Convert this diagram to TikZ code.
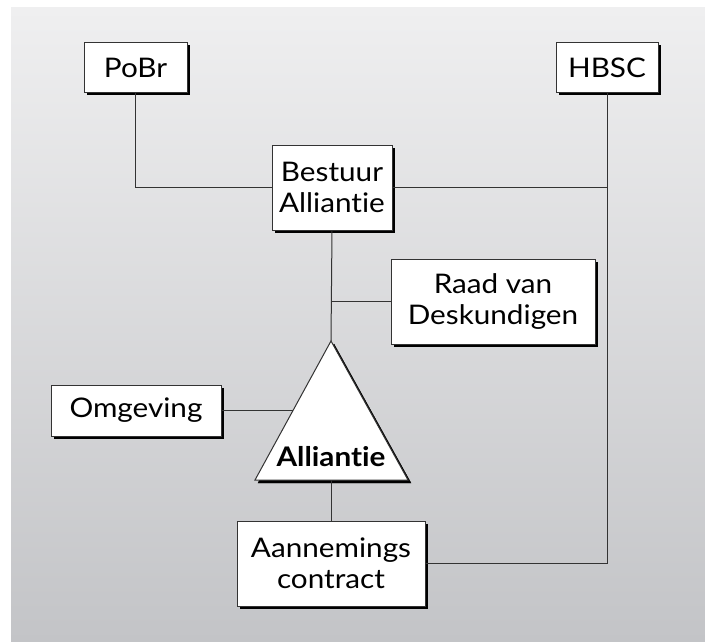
\documentclass[tikz,border=0pt]{standalone}
\usepackage{fontspec}
\setmainfont[Ligatures=NoCommon, FakeStretch=1.1]{Lato}
\usepackage{tikz}
\usetikzlibrary{shadows,positioning,calc}

\definecolor{bgtop}{HTML}{EFEFF0}
\definecolor{bgbot}{HTML}{C3C4C7}
\definecolor{linegray}{HTML}{333333}

\tikzset{
  orgbox/.style = {draw=linegray, fill=white, line width=1pt, align=center,
    font=\fontsize{27}{31}\selectfont, inner sep=0pt,
    drop shadow={shadow xshift=2.5pt, shadow yshift=-2.5pt, fill=black, opacity=1}},
  link/.style = {draw=linegray, line width=1pt}
}

\begin{document}
\begin{tikzpicture}[x=1pt, y=-1pt]
    \useasboundingbox (0,0) rectangle (705,642);
    \shade[top color=bgtop, bottom color=bgbot] (11,8) rectangle (705,642);

    % boxes
    \node[orgbox, minimum width=103pt, minimum height=50pt] (pobr) at (135.5,68) {PoBr};
    \node[orgbox, minimum width=102pt, minimum height=50pt] (hbsc) at (607,68) {HBSC};
    \node[orgbox, minimum width=120pt, minimum height=85pt] (bestuur) at (332,187.5) {Bestuur\\Alliantie};
    \node[orgbox, minimum width=204pt, minimum height=85pt] (raad) at (493,301.5) {Raad van\\Deskundigen};
    \node[orgbox, minimum width=170pt, minimum height=51pt] (omgeving) at (136,410.5) {Omgeving};
    \node[orgbox, minimum width=188pt, minimum height=85pt] (contract) at (331,563.5) {Aannemings\\contract};

    % triangle
    \coordinate (top) at (331,341);
    \coordinate (bottom) at (331,480);
    \coordinate (side) at (293,410.5);
    \draw[fill=black] ($(top)+(3,3)$) -- (258,483) -- (411,483) -- cycle;
    \draw[draw=linegray, fill=white, line width=1pt] (top) -- (255,480) -- (408,480) -- cycle;
    \node[font=\fontsize{27}{31}\selectfont\bfseries] (alliantie) at (331,457) {Alliantie};

    % connectors
    \draw[link] (pobr.south) |- (bestuur.west);
    \draw[link] (bestuur.east) -- (bestuur.east -| hbsc.south);
    \draw[link] (hbsc.south) |- (contract.east);
    \draw[link] (bestuur.south) -- (top);
    \draw[link] (bestuur.south |- raad.west) -- (raad.west);
    \draw[link] (omgeving.east) -- (side);
    \draw[link] (bottom) -- (contract.north);
  \end{tikzpicture}
\end{document}
